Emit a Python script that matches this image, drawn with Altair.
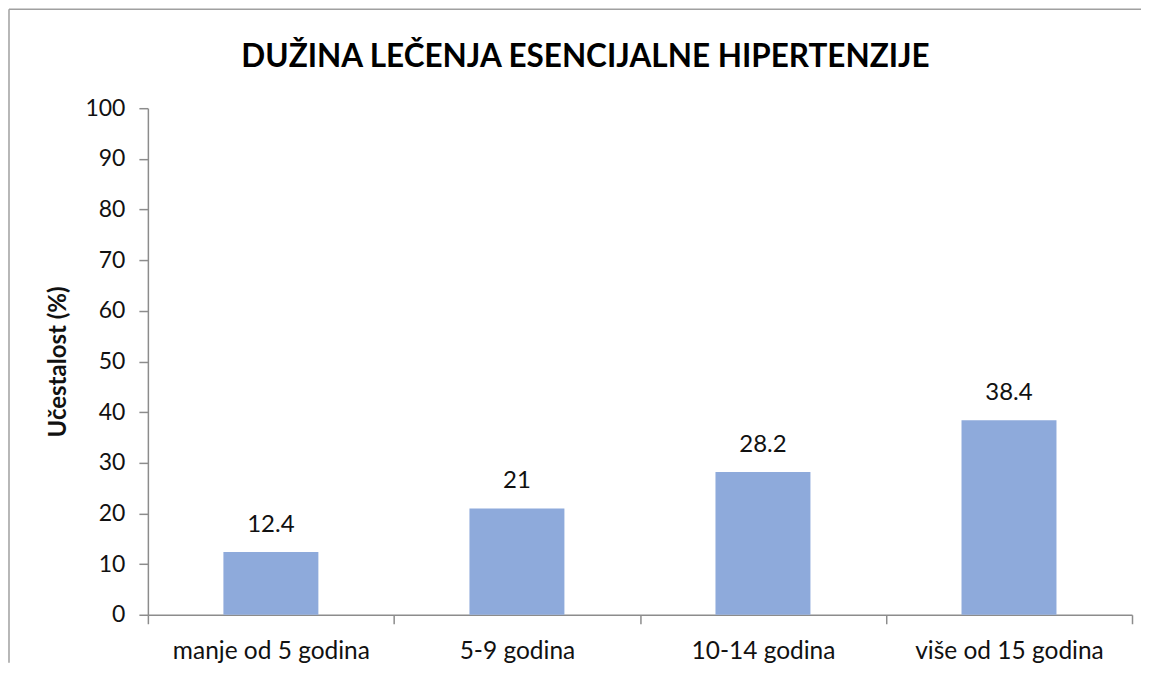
import altair as alt
import pandas as pd

categories = ["manje od 5 godina", "5-9 godina", "10-14 godina", "više od 15 godina"]
values = [12.4, 21, 28.2, 38.4]
y_ticks = [0, 10, 20, 30, 40, 50, 60, 70, 80, 90, 100]
title_text = "DUŽINA LEČENJA ESENCIJALNE HIPERTENZIJE"

df = pd.DataFrame({"kat": categories, "val": values})

FONT = "Lato"
GRAY = "#8c8c8c"
W, H = 985, 507

x = alt.X("kat:N", sort=categories, title=None,
          scale=alt.Scale(paddingInner=0, paddingOuter=0),
          axis=alt.Axis(tickBand="extent", labelAngle=0, labelFontSize=24.5,
                        labelColor="#111111", labelFont=FONT, labelPadding=16,
                        labelLimit=400,
                        tickSize=9, tickColor=GRAY, domainColor=GRAY,
                        domainWidth=1.5, tickWidth=1.5))
y = alt.Y("val:Q", title="Učestalost (%)",
          scale=alt.Scale(domain=[0, 100], nice=False),
          axis=alt.Axis(values=y_ticks, grid=False, labelFontSize=23,
                        labelColor="#111111", labelFont=FONT, labelPadding=14,
                        tickSize=9, tickColor=GRAY, domainColor=GRAY,
                        domainWidth=1.5, tickWidth=1.5,
                        titleFont=FONT, titleFontSize=24, titleFontWeight="bold",
                        titleColor="#111111", titlePadding=14))

bars = alt.Chart(df).mark_bar(color="#8EAADB", width={"band": 0.386}).encode(x=x, y=y)
labels = alt.Chart(df).mark_text(baseline="bottom", dy=-15, fontSize=24,
                                 font=FONT, color="#111111").encode(
    x=alt.X("kat:N", sort=categories), y="val:Q",
    text=alt.Text("val:Q", format="~g"))

frame_df = pd.DataFrame({"f": [0]})
top_line = alt.Chart(frame_df).mark_rule(color="#a0a0a0", strokeWidth=1.5).encode(
    x=alt.value(-139), x2=alt.value(994), y=alt.value(-99))
left_line = alt.Chart(frame_df).mark_rule(color="#a0a0a0", strokeWidth=1.5).encode(
    x=alt.value(-139), y=alt.value(-99), y2=alt.value(555))

title_df = pd.DataFrame({"t": [title_text]})
title = alt.Chart(title_df).mark_text(font=FONT, fontSize=31.5, fontWeight="bold",
                                      color="#000000", align="center",
                                      baseline="alphabetic").encode(
    text="t:N", x=alt.value(438), y=alt.value(-41))

chart = alt.layer(bars, labels, top_line, left_line, title).properties(
    width=W, height=H, padding=0,
).configure_view(stroke=None)

chart.save("out.html", embed_options={"renderer": "svg", "actions": False})
